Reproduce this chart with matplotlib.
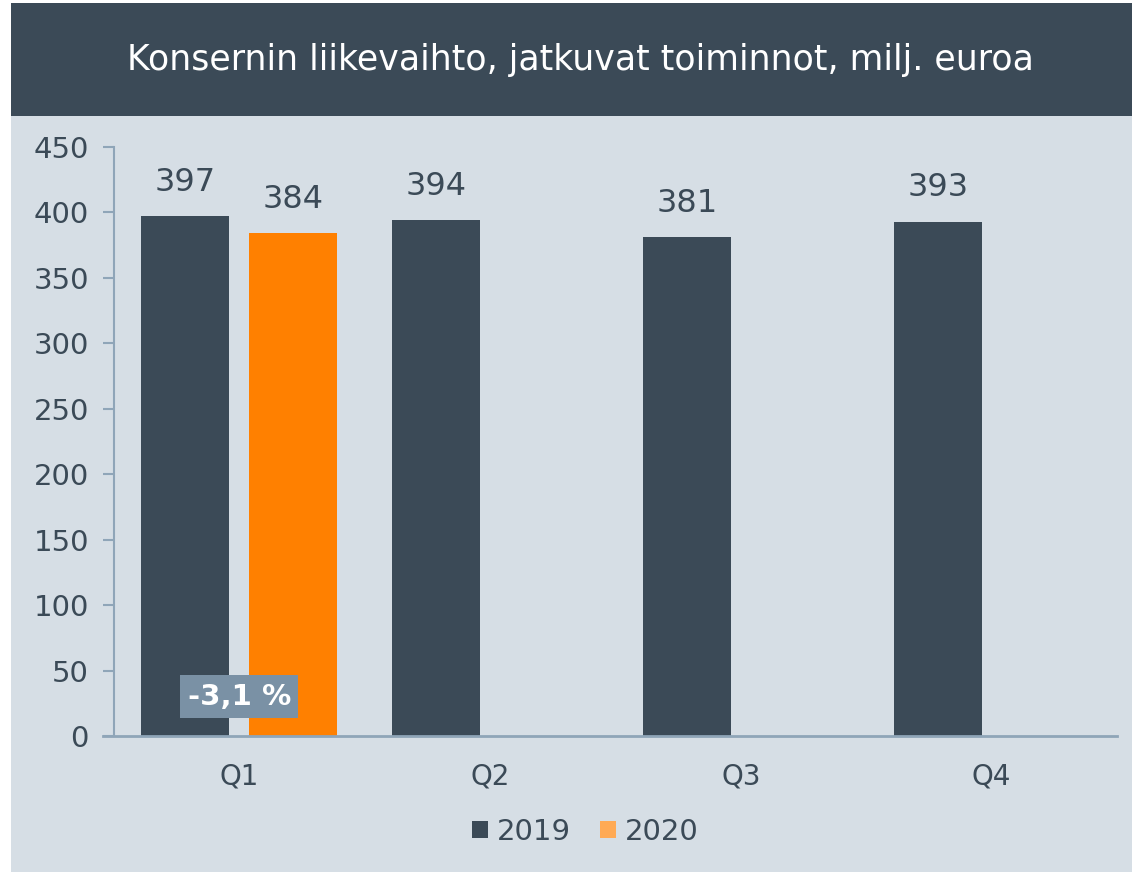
import matplotlib
matplotlib.use("Agg")
import matplotlib.pyplot as plt
from matplotlib.patches import Rectangle, Patch
import numpy as np

categories = ["Q1", "Q2", "Q3", "Q4"]
values_2019 = [397, 394, 381, 393]
values_2020 = [384, None, None, None]
series_names = ["2019", "2020"]
change_label = "-3,1 %"
title = "Konsernin liikevaihto, jatkuvat toiminnot, milj. euroa"
yticks = [0, 50, 100, 150, 200, 250, 300, 350, 400, 450]

DARK = "#3B4A57"
ORANGE = "#FF8000"
ORANGE_LEG = "#FFAA55"
BG = "#D6DEE5"
AXIS = "#8FA5B8"
BOX = "#7A91A5"

plt.rcParams['font.family'] = ['DejaVu Sans']

W, H = 1132, 872
fig = plt.figure(figsize=(W / 100, H / 100), dpi=100, facecolor="white")

# background panel
fig.patches.append(Rectangle((11 / W, 0), 1 - 11 / W, 1 - 3 / H, transform=fig.transFigure,
                             facecolor=BG, edgecolor="none", zorder=-2))
# title band
fig.patches.append(Rectangle((11 / W, 1 - 116 / H), 1 - 11 / W, (116 - 3) / H,
                             transform=fig.transFigure, facecolor=DARK, edgecolor="none", zorder=-1))
fig.text(580 / W, 1 - 60 / H, title, color="white", ha="center", va="center",
         fontsize=25)

ax = fig.add_axes([114 / W, 1 - 736 / H, (1117 - 114) / W, (736 - 147) / H])
ax.set_zorder(2)
ax.set_facecolor("none")

x = np.arange(len(categories))
off = 0.215
bw = 0.351
v19 = np.array(values_2019, dtype=float)
b1 = ax.bar(x - off, v19, width=bw, color=DARK, zorder=2)
idx20 = [i for i, v in enumerate(values_2020) if v is not None]
v20 = np.array([values_2020[i] for i in idx20], dtype=float)
b2 = ax.bar(x[idx20] + off, v20, width=bw, color=ORANGE, zorder=2)

for xi, v in zip(x - off, v19):
    ax.text(xi, v + 14, f"{int(v)}", ha="center", va="bottom", fontsize=23, color=DARK)
for xi, v in zip(x[idx20] + off, v20):
    ax.text(xi, v + 14, f"{int(v)}", ha="center", va="bottom", fontsize=23, color=DARK)

ax.text(x[0], 30, change_label, ha="center", va="center", fontsize=21, color="white",
        fontweight="bold", zorder=5,
        bbox=dict(boxstyle="square,pad=0.25", facecolor=BOX, edgecolor="none"))

ax.set_ylim(0, 450)
ax.set_xlim(-0.5, len(categories) - 0.5)
ax.set_yticks(yticks)
ax.set_yticklabels([str(t) for t in yticks], fontsize=21, color=DARK)
ax.set_xticks(x)
ax.set_xticklabels(categories, fontsize=20, color=DARK)
ax.tick_params(axis="x", length=0, pad=19)
ax.tick_params(axis="y", length=8, width=1.5, color=AXIS, pad=10)
for s in ["top", "right"]:
    ax.spines[s].set_visible(False)
ax.spines["left"].set_color(AXIS)
ax.spines["left"].set_linewidth(1.5)
ax.spines["bottom"].set_color(AXIS)
ax.spines["bottom"].set_linewidth(2)
ax.spines["bottom"].set_bounds(-0.5 - 11 / 250.75, len(categories) - 0.5)

handles = [Patch(facecolor=DARK), Patch(facecolor=ORANGE_LEG)]
fig.legend(handles, series_names, loc="center", bbox_to_anchor=(585 / W, 1 - 832 / H),
           ncol=2, frameon=False, fontsize=21, labelcolor=DARK,
           handlelength=0.55, handleheight=0.55, handletextpad=0.3, columnspacing=1.0)

fig.savefig("out.png", dpi=100, facecolor=fig.get_facecolor())
